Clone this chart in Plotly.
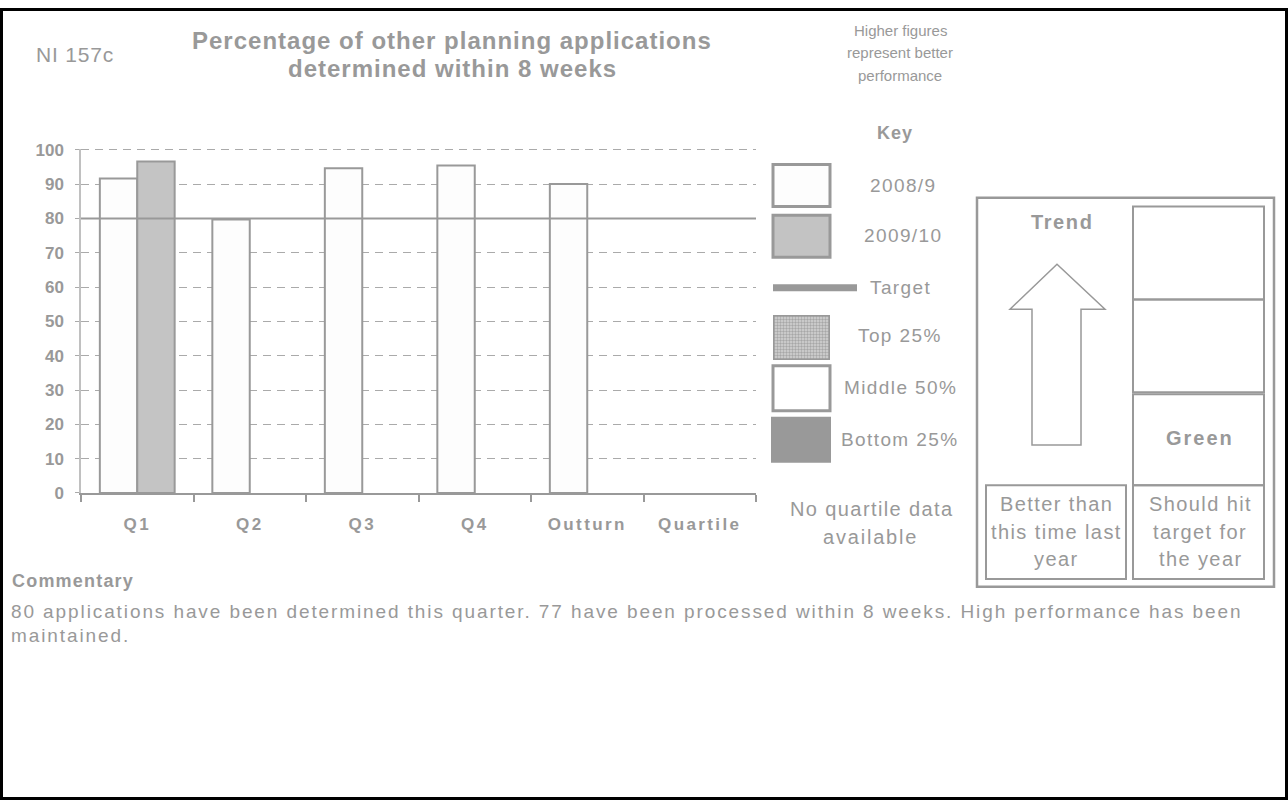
import plotly.graph_objects as go

# ---------------- data ----------------
categories = ["Q1", "Q2", "Q3", "Q4", "Outturn", "Quartile"]
values_2008_9 = [91.6, 79.7, 94.6, 95.4, 90.0, None]
values_2009_10 = [96.6, None, None, None, None, None]
target_value = 80
y_ticks = [0, 10, 20, 30, 40, 50, 60, 70, 80, 90, 100]

key_labels = ["2008/9", "2009/10", "Target", "Top 25%", "Middle 50%", "Bottom 25%"]
title_lines = ["Percentage of other planning applications", "determined within 8 weeks"]
note_lines = ["Higher figures", "represent better", "performance"]
trend_lines = ["Better than", "this time last", "year"]
rag_lines = ["Should hit", "target for", "the year"]
commentary_lines = [
    "80 applications have been determined this quarter. 77 have been processed within 8 weeks. High performance has been",
    "maintained.",
]

W, H = 1288, 810
FONT = "Liberation Sans, Arial, sans-serif"
TXT = "#999999"
LINE = "#999999"


def px(x):
    return x / W


def py(y):
    return 1 - y / H


def sp(text, ls):
    return f'<span style="letter-spacing:{ls}px">{text}</span>'


fig = go.Figure()

fig.add_trace(go.Bar(
    x=categories, y=values_2008_9, name="2008/9",
    marker=dict(color="#FDFDFD", line=dict(color=LINE, width=2)),
    hoverinfo="skip", showlegend=False,
))
fig.add_trace(go.Bar(
    x=categories, y=values_2009_10, name="2009/10",
    marker=dict(color="#C4C4C4", line=dict(color=LINE, width=2)),
    hoverinfo="skip", showlegend=False,
))

# patterned key swatch (Top 25%)
fig.add_trace(go.Bar(
    x=[0], y=[1], width=[1], xaxis="x2", yaxis="y2",
    marker=dict(color="white", line=dict(color=LINE, width=3),
                pattern=dict(shape=".", fgcolor="#7a7a7a", bgcolor="#d4d4d4", size=3, solidity=0.5)),
    hoverinfo="skip", showlegend=False,
))

shapes = []
ann = []

# target line
shapes.append(dict(type="line", xref="x domain", yref="y", x0=0, x1=1, y0=target_value, y1=target_value,
                   line=dict(color=LINE, width=2), layer="above"))

# outer border
shapes.append(dict(type="rect", xref="paper", yref="paper", x0=px(1.5), x1=px(W - 1.5), y0=py(H - 1.5), y1=py(1.5),
                   line=dict(color="black", width=3)))


def rect(x0, y0, x1, y1, fill="rgba(0,0,0,0)", lw=3, color=LINE):
    shapes.append(dict(type="rect", xref="paper", yref="paper", x0=px(x0), x1=px(x1), y0=py(y1), y1=py(y0),
                       fillcolor=fill, line=dict(color=color, width=lw)))


# key swatches
rect(773, 160, 830, 203, fill="#FDFDFD")
rect(773, 212, 830, 255, fill="#C3C3C3")
shapes.append(dict(type="line", xref="paper", yref="paper", x0=px(773), x1=px(857), y0=py(286), y1=py(286),
                   line=dict(color=LINE, width=7)))
rect(773, 366, 830, 412, fill="white")
rect(771, 418, 831, 465, fill="#999999", lw=0)

key_y = [182, 233, 286, 335, 388, 441]
key_x = [903, 903, 900, 900, 900, 900]
for lab, yy, xx in zip(key_labels, key_y, key_x):
    ann.append(dict(x=px(xx), y=py(yy), text=sp(lab, 1.4), font=dict(size=19, color=TXT, family=FONT)))

ann.append(dict(x=px(895), y=py(128), text=sp("<b>Key</b>", 1), font=dict(size=18, color=TXT, family=FONT)))
ann.append(dict(x=px(872), y=py(512), text=sp("No quartile data", 1.4), font=dict(size=20, color=TXT, family=FONT)))
ann.append(dict(x=px(870), y=py(541), text=sp("available", 1.8), font=dict(size=20, color=TXT, family=FONT)))

# right panel
rect(977, 194, 1274, 592, lw=2.5)
rect(986, 488, 1126, 584, lw=2)
rect(1133, 203, 1264, 298, lw=2)
rect(1133, 298, 1264, 393, lw=2)
rect(1133, 395, 1264, 488, lw=2)
rect(1133, 488, 1264, 584, lw=2)

arrow = [(1032, 447), (1032, 308), (1010, 308), (1057, 262), (1105, 308), (1081, 308), (1081, 447)]
path = "M " + " L ".join(f"{px(a):.5f},{py(b):.5f}" for a, b in arrow) + " Z"
shapes.append(dict(type="path", xref="paper", yref="paper", path=path, fillcolor="white",
                   line=dict(color=LINE, width=1.5)))

ann.append(dict(x=px(1062), y=py(219), text=sp("<b>Trend</b>", 1.6), font=dict(size=20, color=TXT, family=FONT)))
ann.append(dict(x=px(1200), y=py(440), text=sp("<b>Green</b>", 2), font=dict(size=20, color=TXT, family=FONT)))
for i, (a, b) in enumerate(zip(trend_lines, rag_lines)):
    yy = 507 + i * 28.5
    ann.append(dict(x=px(1056), y=py(yy), text=sp(a, 1.4), font=dict(size=20, color=TXT, family=FONT)))
    ann.append(dict(x=px(1200), y=py(yy), text=sp(b, 1.4), font=dict(size=20, color=TXT, family=FONT)))

# titles / notes
ann.append(dict(x=px(34), y=py(48), xanchor="left", text=sp("NI 157c", 0.8), font=dict(size=21, color=TXT, family=FONT)))
for i, t in enumerate(title_lines):
    ann.append(dict(x=px(452), y=py(33 + i * 29), text=sp(f"<b>{t}</b>", 1), font=dict(size=24, color=TXT, family=FONT)))
for i, t in enumerate(note_lines):
    ann.append(dict(x=px(900), y=py(23 + i * 23), text=sp(t, 0), font=dict(size=15, color=TXT, family=FONT)))

# commentary
ann.append(dict(x=px(10), y=py(586), xanchor="left", text=sp("<b>Commentary</b>", 1.2), font=dict(size=18, color=TXT, family=FONT)))
for i, t in enumerate(commentary_lines):
    ann.append(dict(x=px(9), y=py(617 + i * 25), xanchor="left", text=sp(t, 1.9), font=dict(size=19, color=TXT, family=FONT)))

for a in ann:
    a.setdefault("xref", "paper")
    a.setdefault("yref", "paper")
    a.setdefault("showarrow", False)
    a.setdefault("xanchor", "center")
    a.setdefault("yanchor", "middle")

y_top = 100.3
fig.update_layout(
    width=W, height=H,
    margin=dict(l=0, r=0, t=0, b=0),
    paper_bgcolor="white", plot_bgcolor="white",
    barmode="group", bargap=0.335, bargroupgap=0,
    showlegend=False,
    font=dict(family=FONT, color=TXT),
    xaxis=dict(
        type="category", categoryorder="array", categoryarray=categories,
        tickmode="array", tickvals=categories,
        ticktext=[sp(f"<b>{c}</b>", 2.4) for c in categories],
        domain=[px(81), px(756)], anchor="y",
        showline=True, linecolor=LINE, linewidth=1.5,
        ticks="outside", tickson="boundaries", ticklen=7, tickcolor=LINE, tickwidth=1.5,
        tickfont=dict(size=17, color=TXT, family=FONT),
        ticklabelstandoff=15,
        showgrid=False, zeroline=False, fixedrange=True,
    ),
    yaxis=dict(
        domain=[py(496), py(496 - 3.51 * y_top)], range=[0, y_top], anchor="x",
        tickvals=y_ticks,
        showline=True, linecolor="#C0C0C0", linewidth=1.5,
        ticks="outside", ticklen=4, tickcolor="#AAAAAA",
        tickfont=dict(size=17, color=TXT, family=FONT, weight="bold"),
        ticklabelstandoff=8,
        showgrid=True, gridcolor="#AAAAAA", gridwidth=1, griddash="8px,6px",
        zeroline=False, fixedrange=True,
    ),
    xaxis2=dict(domain=[px(773), px(830)], range=[-0.5, 0.5], anchor="y2", visible=False, fixedrange=True),
    yaxis2=dict(domain=[py(360), py(314)], range=[0, 1], anchor="x2", visible=False, fixedrange=True),
    shapes=shapes,
    annotations=ann,
)

fig.write_html("out.html")
